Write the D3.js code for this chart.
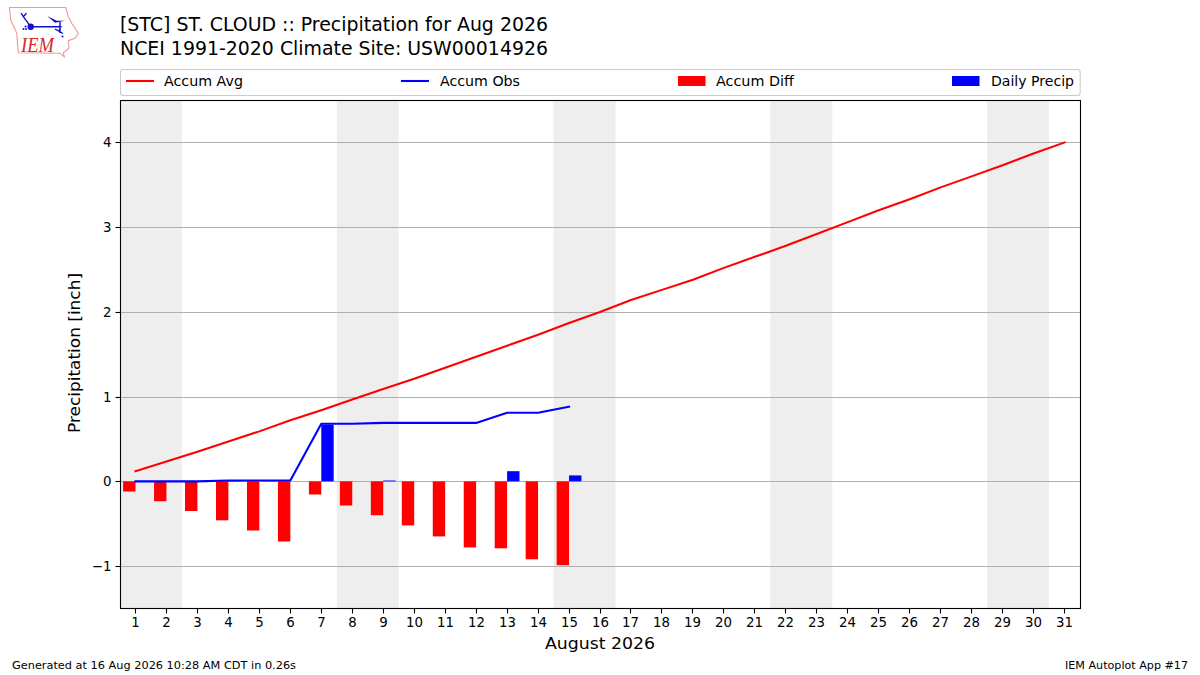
<!DOCTYPE html>
<html><head><meta charset="utf-8">
<script src="https://cdn.jsdelivr.net/npm/d3@7"></script>
<style>html,body{margin:0;padding:0;background:#fff}svg{display:block}text{font-family:"DejaVu Sans",sans-serif;fill:#000}</style>
</head><body><svg id="c" width="1200" height="675"></svg>
<script>
const days=d3.range(1,32);
const accumAvg=[0.12,0.235,0.35,0.47,0.59,0.72,0.84,0.965,1.09,1.21,1.34,1.47,1.60,1.73,1.87,2.0,2.14,2.26,2.38,2.52,2.65,2.78,2.92,3.06,3.2,3.33,3.47,3.6,3.73,3.87,4.0];
const accumObs=[0,0,0,0.01,0.01,0.01,0.68,0.68,0.69,0.69,0.69,0.69,0.81,0.81,0.88];
const accumDiff=[-0.12,-0.235,-0.35,-0.46,-0.58,-0.71,-0.155,-0.285,-0.40,-0.52,-0.65,-0.78,-0.79,-0.92,-0.99];
const dailyPrecip=[0,0,0,0.01,0,0,0.67,0,0.01,0,0,0,0.12,0,0.07];
const weekendStarts=[0.5,7.5,14.5,21.5,28.5];
const yTicks=[-1,0,1,2,3,4];
const titleLines=["[STC] ST. CLOUD :: Precipitation for Aug 2026","NCEI 1991-2020 Climate Site: USW00014926"];

const svg=d3.select("#c");
const L=120.5,R=1080.5,T=100.5,B=608.5;
const x=d3.scaleLinear().domain([0.5,31.5]).range([120,1080]);
const y=d3.scaleLinear().domain([-1.5,4.5]).range([608.43,100.11]);
const snapX=v=>Math.floor(v)+0.5;
const snapY=v=>Math.floor(v+0.4)+0.5;
const bw=x(1.4)-x(1);
const fit=(sel,w)=>sel.attr("textLength",w).attr("lengthAdjust","spacingAndGlyphs");

const plot=svg.append("g");
plot.selectAll("rect.wk").data(weekendStarts).join("rect")
 .attr("x",d=>x(d)).attr("width",d=>x(d+2)-x(d)).attr("y",T).attr("height",B-T).attr("fill","#eeeeee");
plot.selectAll("line.g").data(yTicks).join("line")
 .attr("x1",L).attr("x2",R).attr("y1",d=>snapY(y(d))).attr("y2",d=>snapY(y(d))).attr("stroke","#b0b0b0").attr("stroke-width",1.1);

plot.selectAll("rect.diff").data(accumDiff).join("rect")
 .attr("x",(d,i)=>x(i+1)-bw).attr("width",bw).attr("y",y(0)).attr("height",d=>y(d)-y(0)).attr("fill","#ff0000");
plot.selectAll("rect.daily").data(dailyPrecip).join("rect")
 .attr("x",(d,i)=>x(i+1)).attr("width",bw).attr("y",d=>y(d)).attr("height",d=>y(0)-y(d)).attr("fill","#0000ff");

const line=d3.line().x((d,i)=>x(i+1)).y(d=>y(d));
plot.append("path").attr("d",line(accumAvg)).attr("fill","none").attr("stroke","#ff0000").attr("stroke-width",2.08).attr("stroke-linecap","square").attr("stroke-linejoin","round");
plot.append("path").attr("d",line(accumObs)).attr("fill","none").attr("stroke","#0000ff").attr("stroke-width",2.08).attr("stroke-linecap","square").attr("stroke-linejoin","round");

// frame
svg.append("rect").attr("x",L).attr("y",T).attr("width",R-L).attr("height",B-T).attr("fill","none").attr("stroke","#000").attr("stroke-width",1.1);

// axes
const xa=svg.append("g").attr("transform",`translate(0,${B})`).call(d3.axisBottom(x).tickValues(days).tickFormat(d3.format("d")).tickSize(5).tickPadding(4).offset(0));
const ya=svg.append("g").attr("transform",`translate(${L},0)`).call(d3.axisLeft(y).tickValues(yTicks).tickFormat(d=>d<0?"\u2212"+(-d):d).tickSize(5).tickPadding(4).offset(0));
xa.selectAll(".tick").attr("transform",d=>`translate(${snapX(x(d))},0)`);
ya.selectAll(".tick").attr("transform",d=>`translate(0,${snapY(y(d))})`);
[xa,ya].forEach(a=>{a.select(".domain").remove();a.selectAll("text").attr("font-size",13.33).style("font-family",'"DejaVu Sans"');a.selectAll("line").attr("stroke","#000").attr("stroke-width",1.1)});

fit(svg.append("text").attr("x",600).attr("y",649).attr("text-anchor","middle").attr("font-size",16),110).text("August 2026");
fit(svg.append("text").attr("transform",`translate(80,353) rotate(-90)`).attr("text-anchor","middle").attr("font-size",16),160).text("Precipitation [inch]");

titleLines.forEach((d,i)=>fit(svg.append("text").attr("x",120).attr("y",31+i*23.5).attr("font-size",18.67),428).text(d));

// legend
svg.append("rect").attr("x",120.5).attr("y",69.5).attr("width",959.7).attr("height",26).attr("rx",2.8).attr("fill","#fff").attr("stroke","#cccccc").attr("stroke-width",1.1);
const lg=[["Accum Avg","line","#ff0000",126,164,79],["Accum Obs","line","#0000ff",401,440,80],["Accum Diff","bar","#ff0000",678,716,78],["Daily Precip","bar","#0000ff",952,991,83]];
lg.forEach(([t,k,c,x0,tx,w])=>{
 if(k==="line")svg.append("line").attr("x1",x0).attr("x2",x0+28).attr("y1",81).attr("y2",81).attr("stroke",c).attr("stroke-width",2.08);
 else svg.append("rect").attr("x",x0).attr("y",76).attr("width",27.5).attr("height",10).attr("fill",c);
 fit(svg.append("text").attr("x",tx).attr("y",86).attr("font-size",13.33),w).text(t);
});

fit(svg.append("text").attr("x",12).attr("y",669).attr("font-size",10.67),284).text("Generated at 16 Aug 2026 10:28 AM CDT in 0.26s");
fit(svg.append("text").attr("x",1188).attr("y",669).attr("text-anchor","end").attr("font-size",10.67),123).text("IEM Autoplot App #17");

// logo
const lo=svg.append("g");
lo.append("path").attr("d","M9.5 7.5 L65.7 7.5 L68.3 16.7 L71.7 23.3 L78.3 33.3 L75 38.3 L68.3 40.7 L69 48.3 L63.3 52.7 L64.3 56.7 L60 53.3 L18.3 52.7 L16.7 33 L10.7 20 Z").attr("fill","#fff").attr("stroke","#ee9a9a").attr("stroke-width",1.1);
lo.append("path").attr("d","M30.7 26.7 H61.7 M30.7 26.7 L23.3 16.7 M23.3 16.7 L21 13 M23.3 16.7 L26.5 13.3 M60 21.7 V33 M55 29 L63 33.5").attr("fill","none").attr("stroke","#1010cc").attr("stroke-width",1.4);
lo.append("path").attr("d","M47.3 16 L56.7 20.7 L65 20.7 L55 22.7 Z").attr("fill","#1010cc");
lo.append("circle").attr("cx",30.7).attr("cy",26.7).attr("r",3.2).attr("fill","#1010cc");
lo.selectAll("circle.d").data([[23.5,29],[25.5,26.5],[26,29],[59.5,30],[62.5,36.5]]).join("circle").attr("cx",d=>d[0]).attr("cy",d=>d[1]).attr("r",1).attr("fill","#1010cc");
lo.append("text").attr("x",21).attr("y",51.5).attr("font-size",22).attr("textLength",33).attr("lengthAdjust","spacingAndGlyphs").style("font-family",'"Liberation Serif"').style("font-style","italic").style("fill","#d9262e").text("IEM");
</script></body></html>
